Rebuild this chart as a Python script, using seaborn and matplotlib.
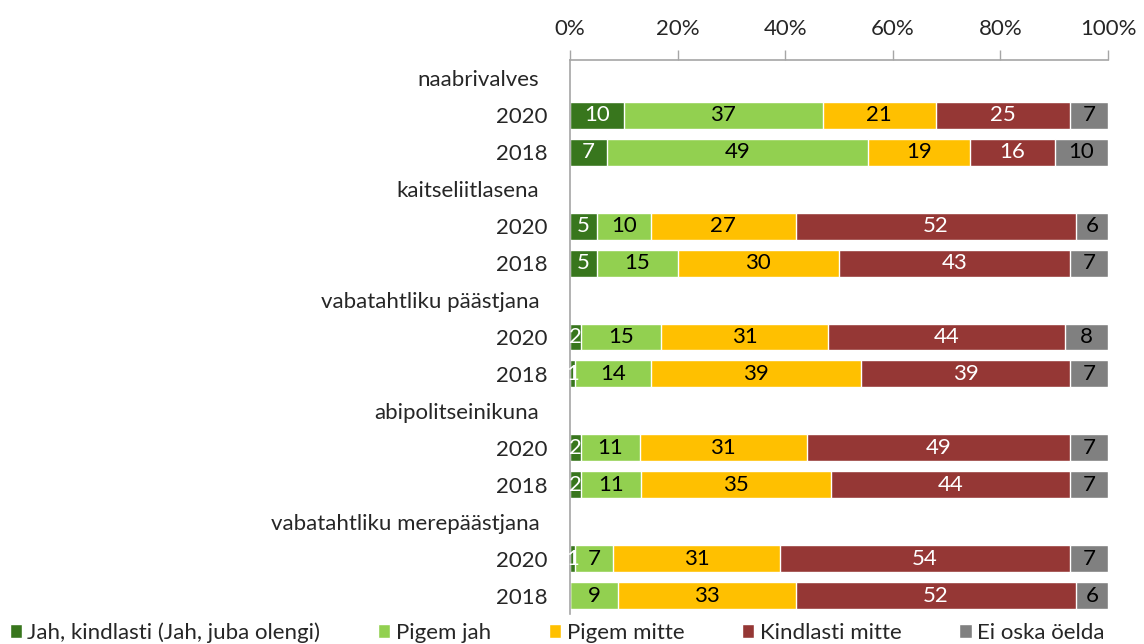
import numpy as np
import pandas as pd
import matplotlib
matplotlib.use('Agg')
import matplotlib.pyplot as plt
import seaborn as sns

# Read row by row: header rows have no data
row_labels = ['naabrivalves', '2020', '2018',
              'kaitseliitlasena', '2020', '2018',
              'vabatahtliku päästjana', '2020', '2018',
              'abipolitseinikuna', '2020', '2018',
              'vabatahtliku merepäästjana', '2020', '2018']
is_header = [True, False, False] * 5

categories = ['Jah, kindlasti (Jah, juba olengi)', 'Pigem jah', 'Pigem mitte',
              'Kindlasti mitte', 'Ei oska öelda']
colors = ['#38761D', '#92D050', '#FFC000', '#953735', '#808080']
label_colors = ['white', 'black', 'black', 'white', 'black']

# values for data rows, in order (2020, 2018 per group)
jah_kindlasti = [10, 7, 5, 5, 2, 1, 2, 2, 1, 0]
pigem_jah = [37, 49, 10, 15, 15, 14, 11, 11, 7, 9]
pigem_mitte = [21, 19, 27, 30, 31, 39, 31, 35, 31, 33]
kindlasti_mitte = [25, 16, 52, 43, 44, 39, 49, 44, 54, 52]
ei_oska = [7, 10, 6, 7, 8, 7, 7, 7, 7, 6]

series = [jah_kindlasti, pigem_jah, pigem_mitte, kindlasti_mitte, ei_oska]

row_ids = ['r%d' % i for i in range(len(row_labels))]
data_ids = [r for r, h in zip(row_ids, is_header) if not h]

vals = np.array(series, dtype=float)          # shape (5, 10)
pct = vals / vals.sum(axis=0) * 100           # 100% stacked
cum = np.cumsum(pct, axis=0)

sns.set_theme(style='white')
plt.rcParams['font.family'] = ['Lato', 'DejaVu Sans']
fs = 16

fig = plt.figure(figsize=(11.44, 6.44), dpi=100)
ax = fig.add_axes([570 / 1144, 1 - 614 / 644, 538 / 1144, 554 / 644])

# draw cumulative bars from the last series backwards so they overlap into a stack
for k in range(len(categories) - 1, -1, -1):
    df = pd.DataFrame({'row': data_ids, 'cum': cum[k]})
    sns.barplot(data=df, x='cum', y='row', order=row_ids, color=colors[k],
                orient='h', width=0.73, errorbar=None, edgecolor='white',
                linewidth=1, saturation=1, ax=ax, label=categories[k])

# segment labels
for k in range(len(categories)):
    for j, rid in enumerate(data_ids):
        if vals[k, j] == 0:
            continue
        y = row_ids.index(rid)
        x = cum[k, j] - pct[k, j] / 2
        ax.text(x, y, '%d' % vals[k, j], ha='center', va='center',
                fontsize=fs, color=label_colors[k])

ax.set_xlim(0, 100)
ax.set_ylim(len(row_ids) - 0.5, -0.5)
ax.xaxis.tick_top()
ax.set_xticks(np.arange(0, 101, 20))
ax.set_xticklabels(['%d%%' % t for t in range(0, 101, 20)], fontsize=fs)
ax.tick_params(axis='x', which='both', top=True, length=7, width=1,
               color='#A6A6A6', pad=8)
ax.set_yticks(range(len(row_ids)))
ax.set_yticklabels(row_labels, fontsize=fs)
ax.tick_params(axis='y', length=0)
for t, h in zip(ax.yaxis.get_major_ticks(), is_header):
    t.set_pad(22 if h else 16)
ax.set_xlabel('')
ax.set_ylabel('')

for s in ['right', 'bottom']:
    ax.spines[s].set_visible(False)
for s in ['left', 'top']:
    ax.spines[s].set_color('#A6A6A6')
    ax.spines[s].set_linewidth(1.2)

handles, labels = ax.get_legend_handles_labels()
order = [labels.index(c) for c in categories]
ax.legend([handles[i] for i in order], [labels[i] for i in order],
          loc='lower center', bbox_to_anchor=(0.487, -0.012),
          bbox_transform=fig.transFigure, ncol=5, frameon=False,
          fontsize=fs, handlelength=0.55, handleheight=0.55,
          handletextpad=0.25, columnspacing=2.6, borderaxespad=0)

fig.savefig('out.png', dpi=100)
